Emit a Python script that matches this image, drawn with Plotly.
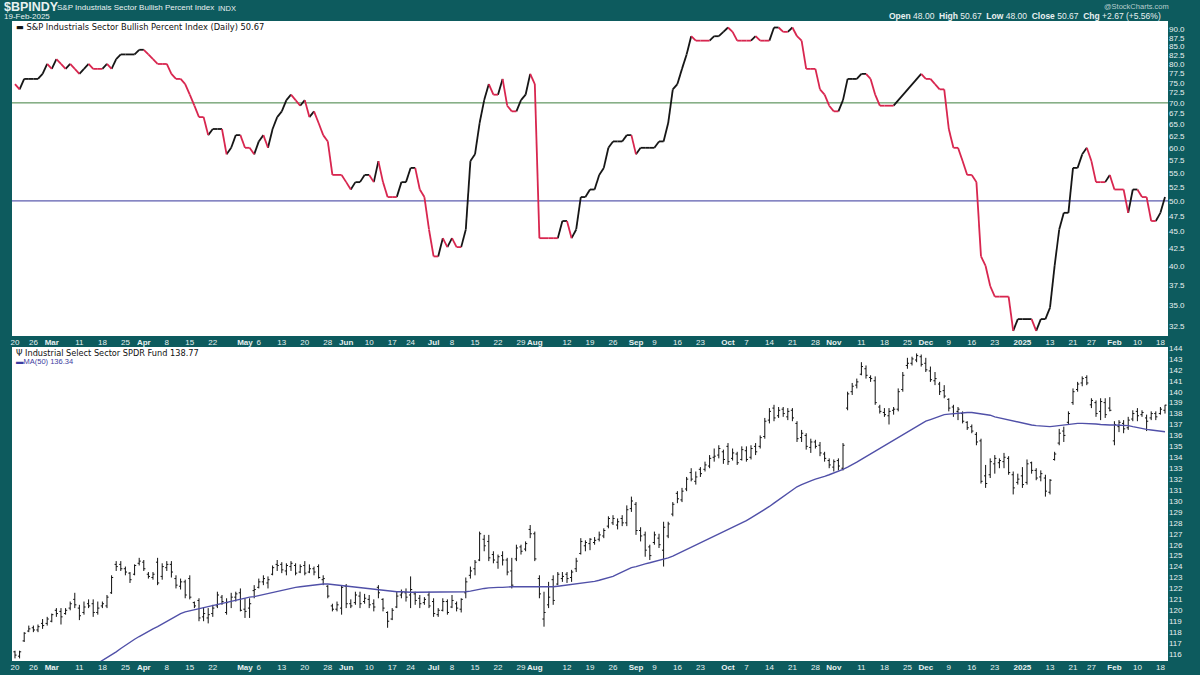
import math
import pandas as pd
import plotly.graph_objects as go

# ---------------- data ----------------
holidays = ["2024-03-29", "2024-05-27", "2024-06-19", "2024-07-04", "2024-09-02", "2024-11-28",
            "2024-12-25", "2025-01-01", "2025-01-09", "2025-01-20", "2025-02-17"]
days = pd.bdate_range("2024-02-20", "2025-02-19")
days = days[~days.isin(pd.to_datetime(holidays))]
N = len(days)
xi = list(range(N))

tick_dates = ["2024-02-20", "2024-02-26", "2024-03-01", "2024-03-11", "2024-03-18", "2024-03-25",
              "2024-04-01", "2024-04-08", "2024-04-15", "2024-04-22", "2024-05-01", "2024-05-06",
              "2024-05-13", "2024-05-20", "2024-05-28", "2024-06-03", "2024-06-10", "2024-06-17",
              "2024-06-24", "2024-07-01", "2024-07-08", "2024-07-15", "2024-07-22", "2024-07-29",
              "2024-08-01", "2024-08-12", "2024-08-19", "2024-08-26", "2024-09-03", "2024-09-09",
              "2024-09-16", "2024-09-23", "2024-10-01", "2024-10-07", "2024-10-14", "2024-10-21",
              "2024-10-28", "2024-11-01", "2024-11-11", "2024-11-18", "2024-11-25", "2024-12-02",
              "2024-12-09", "2024-12-16", "2024-12-23", "2025-01-02", "2025-01-13", "2025-01-21",
              "2025-01-27", "2025-02-03", "2025-02-10", "2025-02-18"]
tick_text = ["20", "26", "<b>Mar</b>", "11", "18", "25", "<b>Apr</b>", "8", "15", "22", "<b>May</b>", "6",
             "13", "20", "28", "<b>Jun</b>", "10", "17", "24", "<b>Jul</b>", "8", "15", "22", "29",
             "<b>Aug</b>", "12", "19", "26", "<b>Sep</b>", "9", "16", "23", "<b>Oct</b>", "7", "14", "21",
             "28", "<b>Nov</b>", "11", "18", "25", "<b>Dec</b>", "9", "16", "23", "<b>2025</b>", "13", "21",
             "27", "<b>Feb</b>", "10", "18"]

bpi = [74.67, 73.33, 76.00, 76.00, 76.00, 76.00, 77.33, 80.00, 78.67, 81.33,
       80.00, 78.67, 80.00, 78.67, 77.33, 78.67, 80.00, 78.67, 78.67, 78.67,
       80.00, 78.67, 81.33, 82.67, 82.67, 82.67, 82.67, 84.00, 84.00, 82.67,
       81.33, 80.00, 80.00, 80.00, 77.33, 76.00, 76.00, 74.67, 72.00, 69.33,
       66.67, 66.67, 62.67, 64.00, 64.00, 64.00, 58.67, 60.00, 62.67, 62.67,
       60.00, 60.00, 58.67, 61.33, 62.67, 60.00, 64.00, 66.67, 68.00, 70.67,
       72.00, 70.67, 69.33, 70.67, 66.67, 68.00, 65.33, 62.67, 61.33, 54.67,
       54.67, 54.67, 53.33, 52.00, 53.33, 53.33, 54.67, 54.67, 53.33, 57.33,
       53.33, 50.67, 50.67, 50.67, 53.33, 53.33, 56.00, 56.00, 52.00, 50.67,
       45.33, 41.33, 41.33, 44.00, 42.67, 44.00, 42.67, 42.67, 45.33, 57.33,
       58.67, 65.33, 70.67, 74.67, 72.00, 72.00, 76.00, 69.33, 68.00, 68.00,
       70.67, 72.00, 77.33, 74.67, 44.00, 44.00, 44.00, 44.00, 44.00, 46.67,
       46.67, 44.00, 45.33, 50.67, 50.67, 52.00, 52.00, 54.67, 56.00, 60.00,
       61.33, 61.33, 61.33, 62.67, 62.67, 58.67, 60.00, 60.00, 60.00, 60.00,
       61.33, 61.33, 65.33, 73.33, 74.67, 78.67, 82.67, 88.00, 86.67, 86.67,
       86.67, 86.67, 88.00, 88.00, 89.33, 90.67, 89.33, 86.67, 86.67, 86.67,
       86.67, 88.00, 86.67, 86.67, 86.67, 90.67, 90.67, 89.33, 89.33, 90.67,
       88.00, 86.67, 78.67, 78.67, 78.67, 73.33, 72.00, 69.33, 68.00, 68.00,
       70.67, 76.00, 76.00, 76.00, 77.33, 77.33, 76.00, 72.00, 69.33, 69.33,
       69.33, 69.33, None, None, None, None, None, 77.33, 76.00, 76.00,
       74.67, 73.33, 73.33, 64.00, 60.00, 60.00, 57.33, 54.67, 54.67, 53.33,
       41.33, 40.00, 37.33, 36.00, 36.00, 36.00, 36.00, 32.00, 33.33, 33.33,
       33.33, 33.33, 32.00, 33.33, 33.33, 34.67, 40.00, 45.33, 48.00, 48.00,
       56.00, 56.00, 58.67, 60.00, 57.33, 53.33, 53.33, 53.33, 54.67, 52.00,
       52.00, 52.00, 48.00, 52.00, 52.00, 50.67, 50.67, 46.67, 46.67, 48.00,
       50.67]

xli_open = [116.2, 115.8, 117.2, 118.1, 118.4, 118.2, 118.8, 118.8, 119.0, 120.0,
            119.9, 119.7, 120.2, 121.0, 120.2, 119.8, 120.6, 120.6, 119.8, 120.4,
            120.4, 121.6, 124.2, 124.2, 123.8, 123.4, 123.3, 124.3, 124.4, 123.3,
            123.0, 124.4, 123.1, 123.9, 124.2, 122.9, 122.2, 122.6, 122.9, 120.7,
            120.9, 119.4, 119.3, 119.7, 120.4, 121.2, 119.8, 120.8, 121.2, 121.6,
            120.1, 120.2, 121.8, 122.1, 122.6, 122.5, 123.3, 124.2, 124.2, 123.6,
            124.0, 124.1, 123.5, 124.1, 123.5, 123.8, 124.0, 122.8, 122.2, 120.4,
            120.1, 120.2, 122.2, 120.6, 120.7, 121.3, 120.8, 121.0, 120.6, 122.1,
            121.0, 119.8, 119.2, 120.3, 121.4, 121.6, 121.4, 121.5, 121.1, 120.7,
            121.4, 120.8, 119.6, 120.0, 120.8, 120.3, 120.6, 120.1, 121.6, 123.2,
            123.8, 124.6, 126.5, 126.3, 125.1, 124.4, 125.0, 124.6, 123.6, 124.7,
            125.8, 125.6, 127.4, 127.0, 122.9, 119.2, 120.5, 122.8, 122.4, 122.9,
            123.3, 123.0, 123.8, 125.2, 125.9, 126.1, 126.2, 126.5, 126.8, 127.7,
            128.0, 127.8, 128.4, 128.0, 129.3, 129.7, 127.3, 126.9, 125.8, 126.2,
            126.6, 125.5, 126.8, 128.8, 130.7, 130.1, 131.1, 132.6, 131.8, 132.9,
            132.9, 133.2, 134.0, 134.2, 134.5, 135.0, 133.9, 134.3, 133.8, 134.6,
            134.0, 135.0, 135.0, 135.9, 137.4, 138.5, 137.8, 138.4, 137.7, 138.3,
            137.1, 135.8, 136.0, 134.9, 135.4, 135.1, 134.3, 133.7, 133.1, 133.7,
            133.0, 138.5, 140.0, 140.6, 141.6, 142.1, 141.3, 141.0, 138.6, 138.1,
            137.8, 138.3, 138.4, 140.2, 142.4, 142.6, 142.9, 143.2, 142.6, 141.9,
            141.0, 140.7, 140.1, 139.3, 138.6, 138.2, 138.0, 137.2, 136.8, 136.1,
            135.5, 132.3, 132.4, 133.4, 133.5, 133.6, 133.9, 132.4, 131.7, 132.3,
            131.7, 133.5, 132.8, 132.2, 132.1, 130.8, 133.8, 135.3, 136.4, 137.2,
            139.0, 140.2, 140.8, 141.3, 138.8, 139.0, 138.2, 139.0, 138.5, 135.5,
            136.8, 137.1, 136.7, 137.5, 138.2, 137.9, 137.6, 137.6, 138.0, 138.0,
            138.3]
xli_high = [116.3, 116.3, 118.0, 118.6, 118.6, 118.7, 119.2, 119.4, 119.7, 120.2,
            120.2, 120.2, 120.8, 121.6, 120.5, 120.8, 121.0, 121.0, 120.8, 120.8,
            121.4, 123.2, 124.5, 124.5, 124.0, 123.5, 124.2, 124.8, 124.6, 123.5,
            123.5, 124.8, 124.3, 124.5, 124.5, 123.2, 122.9, 122.8, 123.2, 120.8,
            121.1, 120.3, 120.2, 120.5, 121.7, 121.4, 121.1, 121.6, 121.7, 122.0,
            121.1, 121.1, 122.3, 122.9, 123.2, 123.1, 124.1, 124.6, 124.4, 124.3,
            124.5, 124.3, 124.2, 124.5, 124.2, 124.0, 124.2, 123.2, 122.3, 120.6,
            120.8, 122.3, 122.4, 121.0, 121.7, 121.7, 121.5, 121.4, 121.0, 122.3,
            121.1, 119.9, 120.2, 121.7, 121.9, 122.0, 123.1, 121.7, 121.4, 121.2,
            121.7, 121.1, 120.2, 121.1, 121.0, 121.4, 120.8, 121.1, 123.0, 124.0,
            124.6, 127.2, 126.9, 126.9, 125.4, 125.1, 125.4, 124.8, 124.8, 126.0,
            126.0, 126.3, 127.8, 127.2, 123.2, 121.7, 122.6, 123.2, 123.5, 123.5,
            123.5, 123.7, 124.8, 126.6, 126.4, 126.6, 126.7, 127.2, 127.5, 128.6,
            128.7, 128.4, 128.7, 129.6, 130.4, 129.9, 127.6, 127.2, 126.0, 127.2,
            127.0, 128.1, 128.1, 129.9, 130.9, 131.2, 132.2, 133.0, 132.7, 133.1,
            133.6, 134.2, 134.8, 135.1, 134.7, 135.3, 134.8, 134.5, 135.0, 135.0,
            135.1, 135.3, 136.0, 137.6, 138.5, 138.8, 138.6, 138.6, 138.5, 138.5,
            137.3, 136.5, 136.2, 135.7, 135.6, 135.4, 134.5, 133.9, 133.8, 133.9,
            135.3, 140.0, 140.8, 141.2, 142.7, 142.4, 141.5, 141.4, 138.8, 138.5,
            138.5, 138.6, 140.3, 141.8, 143.1, 143.2, 143.5, 143.4, 143.1, 142.3,
            141.8, 140.9, 140.6, 139.4, 138.8, 138.6, 138.2, 137.3, 137.0, 136.3,
            135.7, 133.3, 133.9, 134.2, 133.9, 134.4, 134.1, 132.7, 132.5, 133.1,
            133.8, 133.6, 133.0, 132.8, 132.4, 132.0, 134.5, 136.6, 136.8, 138.2,
            140.3, 140.9, 141.4, 141.5, 139.4, 139.2, 139.4, 139.4, 139.5, 137.3,
            137.4, 137.4, 137.7, 138.3, 138.5, 138.3, 137.9, 138.2, 138.2, 138.6,
            138.8]
xli_low = [115.6, 115.6, 117.1, 118.0, 118.0, 118.0, 118.3, 118.6, 118.9, 119.4,
           118.7, 119.6, 120.0, 120.2, 119.1, 119.6, 120.2, 119.4, 119.6, 120.2,
           120.2, 121.5, 123.6, 123.6, 123.2, 122.5, 123.2, 124.1, 123.6, 122.9,
           122.8, 122.3, 122.8, 123.6, 123.0, 122.0, 121.9, 121.1, 121.0, 120.2,
           119.0, 119.0, 118.8, 119.4, 120.2, 120.5, 119.6, 120.2, 120.8, 119.9,
           119.3, 119.3, 121.1, 122.0, 122.3, 122.0, 123.2, 123.6, 123.4, 123.2,
           123.6, 123.2, 123.4, 123.2, 123.4, 123.2, 122.9, 122.3, 121.1, 119.9,
           119.9, 119.6, 120.2, 120.2, 120.5, 120.2, 120.6, 120.2, 119.9, 121.1,
           119.9, 118.4, 119.1, 120.2, 121.1, 120.8, 120.2, 120.5, 120.2, 120.5,
           120.2, 119.4, 119.4, 119.9, 119.6, 120.2, 119.9, 119.8, 121.1, 122.9,
           123.2, 124.5, 125.4, 124.5, 124.3, 123.8, 124.1, 123.2, 122.0, 124.5,
           125.1, 125.4, 126.6, 124.5, 121.1, 118.5, 120.2, 120.5, 122.3, 122.6,
           122.5, 122.6, 123.5, 125.1, 125.4, 125.5, 126.0, 126.3, 126.6, 127.5,
           127.8, 127.4, 127.7, 127.7, 129.0, 126.9, 126.3, 124.9, 124.6, 126.0,
           125.7, 124.0, 126.6, 128.6, 129.8, 129.9, 130.9, 131.8, 131.5, 132.2,
           132.7, 133.0, 133.6, 133.9, 133.4, 133.3, 133.7, 133.3, 133.7, 133.6,
           133.8, 134.2, 134.8, 135.7, 137.1, 137.3, 137.6, 137.7, 137.4, 137.3,
           135.4, 135.4, 134.7, 134.4, 134.8, 134.1, 133.6, 133.0, 132.7, 132.8,
           132.8, 138.3, 139.7, 140.3, 141.5, 141.2, 140.9, 138.8, 138.0, 137.7,
           137.0, 137.9, 138.2, 140.0, 142.1, 142.4, 142.7, 142.3, 141.8, 140.9,
           140.6, 139.7, 139.4, 138.2, 137.7, 137.4, 137.1, 136.5, 136.2, 135.1,
           131.6, 131.2, 132.1, 132.5, 133.0, 133.0, 132.4, 130.6, 131.5, 131.2,
           131.5, 132.5, 131.9, 131.8, 130.4, 130.6, 133.7, 135.1, 135.4, 137.0,
           138.8, 140.0, 140.5, 140.6, 138.5, 137.7, 137.4, 137.6, 138.2, 135.1,
           136.3, 136.2, 136.5, 137.3, 137.3, 137.7, 136.4, 137.4, 137.4, 137.9,
           138.0]
xli_close = [115.9, 116.2, 117.9, 118.3, 118.2, 118.5, 118.6, 119.2, 119.6, 119.7,
             119.4, 120.0, 120.6, 120.5, 119.5, 120.3, 120.4, 119.8, 120.2, 120.6,
             121.2, 123.0, 124.0, 123.8, 123.5, 122.8, 124.1, 124.5, 123.8, 123.1,
             123.3, 122.5, 124.0, 124.2, 123.5, 122.3, 122.6, 121.4, 121.2, 120.4,
             119.3, 119.7, 119.6, 120.2, 121.4, 120.8, 120.7, 121.2, 121.5, 120.0,
             119.9, 120.6, 121.9, 122.6, 122.9, 122.8, 123.9, 124.1, 123.7, 124.1,
             124.3, 123.4, 124.0, 123.4, 123.8, 123.5, 123.0, 122.9, 121.3, 120.1,
             120.5, 122.1, 120.6, 120.4, 121.4, 120.6, 121.1, 120.5, 120.3, 121.6,
             120.2, 119.0, 120.0, 121.3, 121.6, 121.2, 121.9, 120.9, 120.6, 121.0,
             120.4, 119.7, 120.0, 120.8, 119.8, 120.9, 120.2, 121.0, 122.6, 123.6,
             124.4, 127.0, 125.9, 124.8, 124.6, 124.9, 124.6, 123.5, 122.3, 125.7,
             125.4, 126.1, 127.0, 124.7, 121.5, 119.8, 121.2, 120.9, 123.3, 123.1,
             122.9, 123.5, 124.5, 126.3, 126.2, 126.5, 126.4, 126.9, 127.3, 128.4,
             128.4, 128.1, 128.0, 129.2, 130.0, 127.3, 126.8, 125.5, 125.0, 126.9,
             126.0, 127.6, 127.9, 129.7, 130.2, 130.9, 132.0, 132.0, 132.2, 132.5,
             133.3, 133.9, 134.1, 134.8, 133.8, 133.6, 134.4, 133.5, 134.7, 133.8,
             134.8, 134.5, 135.8, 137.3, 138.2, 137.6, 138.3, 138.0, 138.2, 137.6,
             135.7, 136.2, 135.0, 135.4, 135.0, 134.4, 133.9, 133.3, 133.6, 133.2,
             135.1, 139.8, 140.5, 140.9, 142.3, 141.5, 141.2, 139.0, 138.2, 137.9,
             138.2, 138.4, 140.0, 141.5, 142.6, 143.0, 143.3, 142.5, 142.0, 141.1,
             141.2, 140.0, 139.6, 138.5, 138.0, 138.4, 137.3, 136.7, 136.4, 135.4,
             131.8, 131.6, 133.6, 133.9, 133.7, 134.0, 132.6, 131.2, 132.0, 131.5,
             133.4, 132.8, 132.1, 132.5, 130.9, 131.9, 134.3, 136.2, 136.0, 138.0,
             140.0, 140.7, 141.2, 140.8, 139.2, 138.0, 139.1, 137.9, 138.3, 137.0,
             137.2, 136.6, 137.4, 138.0, 137.8, 138.1, 137.3, 138.0, 137.7, 138.4,
             138.77]

ma50 = [None] * 18 + [
    115.15, 115.4, 115.65, 115.9, 116.2, 116.5, 116.8, 117.05, 117.35, 117.6,
    117.85, 118.05, 118.3, 118.5, 118.75, 119.0, 119.25, 119.5, 119.7, 119.85,
    119.95, 120.0, 120.1, 120.2, 120.3, 120.4, 120.5, 120.6, 120.7, 120.8,
    120.9, 121.0, 121.1, 121.2, 121.25, 121.35, 121.45, 121.55, 121.65, 121.75,
    121.85, 121.95, 122.0, 122.1, 122.15, 122.2, 122.3, 122.35, 122.4, 122.4,
    122.4, 122.35, 122.35, 122.3, 122.25, 122.2, 122.15, 122.1, 122.05, 122.0,
    121.95, 121.9, 121.85, 121.8, 121.75, 121.7, 121.7, 121.65, 121.65, 121.65,
    121.65, 121.65, 121.65, 121.65, 121.65, 121.65, 121.65, 121.65, 121.65, 121.65,
    121.7, 121.75, 121.85, 121.95, 122.0, 122.05, 122.1, 122.1, 122.1, 122.15,
    122.15, 122.15, 122.15, 122.15, 122.15, 122.15, 122.1, 122.1, 122.1, 122.15,
    122.2, 122.25, 122.3, 122.35, 122.4, 122.45, 122.5, 122.55, 122.65, 122.75,
    122.85, 122.95, 123.1, 123.3, 123.5, 123.7, 123.9, 124.0, 124.15, 124.25,
    124.35, 124.45, 124.55, 124.65, 124.8, 124.95, 125.15, 125.35, 125.55, 125.75,
    126.0, 126.2, 126.4, 126.6, 126.8, 127.0, 127.2, 127.4, 127.6, 127.8,
    128.0, 128.2, 128.45, 128.7, 128.95, 129.2, 129.5, 129.8, 130.1, 130.4,
    130.7, 131.0, 131.3, 131.5, 131.7, 131.85, 132.0, 132.1, 132.25, 132.4,
    132.55, 132.7, 132.9, 133.1, 133.3, 133.55, 133.8, 134.05, 134.3, 134.55,
    134.8, 135.05, 135.3, 135.55, 135.8, 136.05, 136.3, 136.55, 136.8, 137.05,
    137.3, 137.45, 137.6, 137.75, 137.9, 137.95, 138.0, 138.05, 138.1, 138.1,
    138.1, 138.05, 138.0, 137.95, 137.85, 137.7, 137.6, 137.5, 137.4, 137.3,
    137.2, 137.1, 137.0, 136.95, 136.9, 136.85, 136.8, 136.8, 136.85, 136.9,
    137.0, 137.05, 137.1, 137.1, 137.1, 137.1, 137.1, 137.05, 137.0, 136.95,
    136.95, 136.95, 136.95, 136.9, 136.9, 136.8, 136.7, 136.6, 136.55, 136.5,
    136.45, 136.4, 136.34]

bpi_ticks = [32.5, 35.0, 37.5, 40.0, 42.5, 45.0, 47.5, 50.0, 52.5, 55.0, 57.5, 60.0,
             62.5, 65.0, 67.5, 70.0, 72.5, 75.0, 77.5, 80.0, 82.5, 85.0, 87.5, 90.0]
xli_ticks = list(range(116, 145))
ref_levels = [70, 50]

# ---------------- styling ----------------
TEAL = "#0d5b5e"
TXT = "#e9f1f1"
RED = "#d8264f"
BLK = "#161616"
FONT = "Liberation Sans"

tick_pos = [days.get_loc(pd.Timestamp(d)) for d in tick_dates]
XR = [-0.65, N - 0.35]

fig = go.Figure()

# reference lines
fig.add_trace(go.Scatter(x=XR, y=[ref_levels[0]] * 2, mode="lines",
                         line=dict(color="#3f7f3f", width=1), xaxis="x", yaxis="y", hoverinfo="skip"))
fig.add_trace(go.Scatter(x=XR, y=[ref_levels[1]] * 2, mode="lines",
                         line=dict(color="#34349a", width=1), xaxis="x", yaxis="y", hoverinfo="skip"))

# BPI line, coloured by direction
valid = [i for i, v in enumerate(bpi) if v is not None]
bx, by, rx, ry = [], [], [], []
prev = "black"
for a, b in zip(valid[:-1], valid[1:]):
    if bpi[b] < bpi[a]:
        c = "red"
    elif bpi[b] > bpi[a]:
        c = "black"
    else:
        c = prev
    prev = c
    if c == "red":
        rx += [a, b, None]; ry += [bpi[a], bpi[b], None]
    else:
        bx += [a, b, None]; by += [bpi[a], bpi[b], None]
fig.add_trace(go.Scatter(x=bx, y=by, mode="lines", line=dict(color=BLK, width=1.8),
                         xaxis="x", yaxis="y", hoverinfo="skip"))
fig.add_trace(go.Scatter(x=rx, y=ry, mode="lines", line=dict(color=RED, width=1.8),
                         xaxis="x", yaxis="y", hoverinfo="skip"))

# XLI bars
fig.add_trace(go.Ohlc(x=xi, open=xli_open, high=xli_high, low=xli_low, close=xli_close,
                      increasing=dict(line=dict(color="#111111", width=1)),
                      decreasing=dict(line=dict(color="#111111", width=1)),
                      tickwidth=0.35, xaxis="x2", yaxis="y2", hoverinfo="skip"))
fig.add_trace(go.Scatter(x=xi, y=ma50, mode="lines", line=dict(color="#5050a8", width=1.4),
                         xaxis="x2", yaxis="y2", hoverinfo="skip"))

L, R, T, B = 12, 32, 21, 14
W, H = 1200, 675
PW, PH = W - L - R, H - T - B
top_dom = [(H - B - 336) / PH, 1.0]
bot_dom = [0.0, (H - B - 347) / PH]

top_rng = [math.log10(31.45), math.log10(92.72)]

axis_common = dict(showgrid=False, zeroline=False, showline=False, ticks="", automargin=False,
                   tickangle=0, tickfont=dict(family=FONT, size=8, color=TXT))
fig.update_layout(
    width=W, height=H, margin=dict(l=L, r=R, t=T, b=B, autoexpand=False),
    paper_bgcolor=TEAL, plot_bgcolor="white", showlegend=False, hovermode=False,
    xaxis=dict(domain=[0, 1], anchor="y", range=XR, tickmode="array", tickvals=tick_pos,
               ticktext=tick_text, **axis_common),
    yaxis=dict(domain=top_dom, anchor="x", type="log", range=top_rng, side="right",
               tickmode="array", tickvals=bpi_ticks, ticktext=[f"{v:.1f}" for v in bpi_ticks],
               **axis_common),
    xaxis2=dict(domain=[0, 1], anchor="y2", range=XR, tickmode="array", tickvals=tick_pos,
                ticktext=tick_text, rangeslider=dict(visible=False), **axis_common),
    yaxis2=dict(domain=bot_dom, anchor="x2", range=[115.36, 144.09], side="right",
                tickmode="array", tickvals=xli_ticks, ticktext=[str(v) for v in xli_ticks],
                **axis_common),
)


def px(x, y):
    return (x - L) / PW, (H - B - y) / PH


def note(x, y, text, size, color=TXT, anchor="left", family=FONT):
    ax, ay = px(x, y)
    fig.add_annotation(x=ax, y=ay, xref="paper", yref="paper", text=text, showarrow=False,
                       xanchor=anchor, yanchor="middle",
                       font=dict(family=family, size=size, color=color))


note(2, 7, "<b>$BPINDY</b>", 12.5)
note(55, 7.5, "S&P Industrials Sector Bullish Percent Index", 8)
note(216, 8, "INDX", 7.5)
note(2, 16.5, "19-Feb-2025", 8)
note(1171, 6, "@StockCharts.com", 7.5, color="#b9cfcf", anchor="right")
note(1163, 16.5, "<b>Open</b> 48.00  <b>High</b> 50.67  <b>Low</b> 48.00  <b>Close</b> 50.67  "
     "<b>Chg</b> +2.67 (+5.56%)", 8.5, anchor="right")
note(14, 27, "▬ S&P Industrials Sector Bullish Percent Index (Daily) 50.67", 8.3, color="#111111",
     family="DejaVu Sans")
note(14, 352.5, "Ψ Industrial Select Sector SPDR Fund 138.77", 8.2, color="#111111",
     family="DejaVu Sans")
note(14, 361.5, "▬MA(50) 136.34", 7.5, color="#3c3ca0", family=FONT)

fig.write_html("out.html", config={"displayModeBar": False, "staticPlot": True},
               post_script="document.body.style.margin='0';document.body.style.overflow='hidden';")
